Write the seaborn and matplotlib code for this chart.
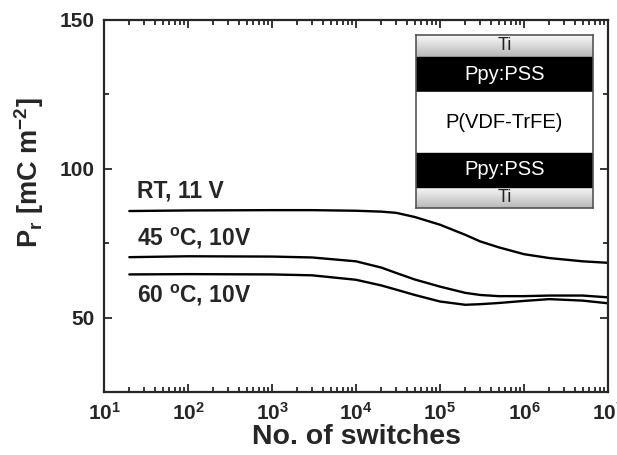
import numpy as np
import pandas as pd
import matplotlib
matplotlib.use("Agg")
import matplotlib.pyplot as plt
from matplotlib.ticker import LogLocator, MultipleLocator, NullFormatter, FuncFormatter
import seaborn as sns

# switching cycles and remanent polarisation
switches = [20, 100, 1e3, 3e3, 1e4, 2e4, 3e4, 5e4, 1e5, 2e5, 3e5, 5e5, 1e6, 2e6, 5e6, 1e7]
pr_rt = [85.8, 86.0, 86.1, 86.1, 85.9, 85.6, 85.2, 83.8, 81.2, 77.8, 75.6, 73.6, 71.3, 70.0, 68.9, 68.4]
pr_45 = [70.3, 70.6, 70.5, 70.2, 68.9, 66.8, 65.0, 62.8, 60.4, 58.3, 57.6, 57.2, 57.2, 57.4, 57.4, 56.8]
pr_60 = [64.5, 64.6, 64.5, 64.2, 62.7, 60.8, 59.4, 57.6, 55.4, 54.3, 54.5, 54.9, 55.6, 56.2, 55.7, 54.8]
labels = ["RT, 11 V", "45 $^{o}$C, 10V", "60 $^{o}$C, 10V"]
label_y = [92.5, 76.5, 57.5]

layers = ["Ti", "Ppy:PSS", "P(VDF-TrFE)", "Ppy:PSS", "Ti"]
layer_edges = [1.0, 0.873, 0.671, 0.318, 0.121, 0.0]

df = pd.DataFrame({
    "switches": switches * 3,
    "pr": pr_rt + pr_45 + pr_60,
    "cond": ["RT"] * len(switches) + ["45"] * len(switches) + ["60"] * len(switches),
})

sns.set_style("ticks")
plt.rcParams["font.family"] = ["Liberation Sans", "DejaVu Sans"]
plt.rcParams["mathtext.fontset"] = "custom"
plt.rcParams["mathtext.rm"] = "Liberation Sans:bold"
plt.rcParams["mathtext.it"] = "Liberation Sans:bold"
plt.rcParams["mathtext.bf"] = "Liberation Sans:bold"

fig = plt.figure(figsize=(6.17, 4.55), dpi=100)
ax = fig.add_axes([0.1686, 0.1385, 0.8169, 0.8176])

sns.lineplot(data=df, x="switches", y="pr", units="cond", estimator=None,
             color="black", linewidth=1.7, ax=ax, legend=False)

ax.set_xscale("log")
ax.set_xlim(10, 1e7)
ax.set_ylim(25, 150)
ax.xaxis.set_major_locator(LogLocator(base=10, numticks=10))
ax.xaxis.set_major_formatter(FuncFormatter(lambda v, p: "$10^{%d}$" % round(np.log10(v))))
ax.xaxis.set_minor_locator(LogLocator(base=10, subs=np.arange(2, 10), numticks=20))
ax.xaxis.set_minor_formatter(NullFormatter())
ax.yaxis.set_major_locator(MultipleLocator(50))
ax.yaxis.set_minor_locator(MultipleLocator(25))

ax.tick_params(which="both", direction="in", top=True, right=True, width=1.3)
ax.tick_params(which="major", length=6, labelsize=15, pad=7)
ax.tick_params(which="minor", length=3.5)
for lab in ax.get_yticklabels():
    lab.set_fontweight("bold")
for s in ax.spines.values():
    s.set_linewidth(1.6)

ax.set_xlabel("No. of switches", fontsize=20.5, fontweight="bold", labelpad=0)
ax.set_ylabel("P$_r$ [mC m$^{-2}$]", fontsize=19.5, fontweight="bold")
ax.yaxis.set_label_coords(-0.115, 0.59)

for txt, yy in zip(labels, label_y):
    ax.text(25, yy, txt, fontsize=16.5, fontweight="bold", va="center", ha="left")

# device stack inset
ax_in = ax.inset_axes([0.619, 0.495, 0.351, 0.465])
ax_in.set_xlim(0, 1)
ax_in.set_ylim(0, 1)
grad = np.linspace(0.97, 0.72, 50).reshape(-1, 1)
for name, top, bot in zip(layers, layer_edges[:-1], layer_edges[1:]):
    if name == "Ti":
        ax_in.imshow(grad, cmap="gray", vmin=0, vmax=1, aspect="auto",
                     extent=[0, 1, bot, top], origin="upper")
        tc, fs = "#222222", 13
    elif name == "Ppy:PSS":
        ax_in.axhspan(bot, top, color="black")
        tc, fs = "white", 14.5
    else:
        ax_in.axhspan(bot, top, color="white")
        tc, fs = "black", 14.5
    ax_in.text(0.5, (top + bot) / 2, name, color=tc, fontsize=fs,
               ha="center", va="center")
ax_in.set_xticks([])
ax_in.set_yticks([])
for s in ax_in.spines.values():
    s.set_linewidth(1.2)
    s.set_color("#555555")

fig.savefig("out.png", dpi=100)
